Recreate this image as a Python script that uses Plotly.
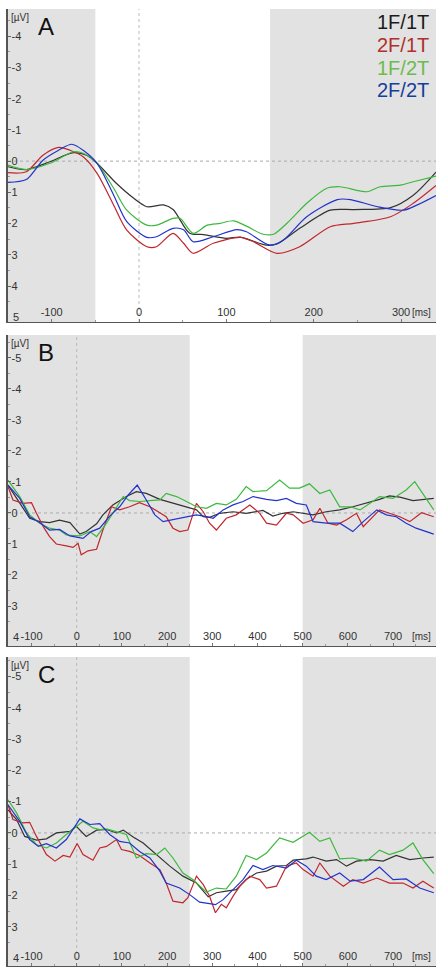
import plotly.graph_objects as go

# ---------------- data ----------------
series_names = ["1F/1T", "2F/1T", "1F/2T", "2F/2T"]
series_colors = ["#333333", "#c0272d", "#3cb93c", "#2233cc"]
legend_colors = ["#1a1a1a", "#b0302a", "#6cbb4c", "#153e9a"]

# Panel A (ms, µV; negative up)
a_t_black = [-150, -129, -102, -75, -60, -48, -26, -6, 9, 28, 39, 58, 74, 100, 116, 146, 158, 184, 219, 246, 288, 314, 340]
a_v_black = [0.18, 0.27, 0.02, -0.27, -0.19, 0.07, 0.71, 1.19, 1.46, 1.40, 1.55, 2.31, 2.35, 2.47, 2.43, 2.69, 2.65, 2.15, 1.57, 1.55, 1.49, 1.09, 0.35]
a_t_red = [-150, -129, -110, -92, -79, -64, -48, -29, -14, 9, 20, 39, 51, 62, 85, 116, 131, 158, 184, 219, 246, 288, 314, 340]
a_v_red = [0.37, 0.34, -0.19, -0.44, -0.35, -0.14, 0.39, 1.41, 2.21, 2.74, 2.74, 2.31, 2.63, 2.95, 2.63, 2.44, 2.58, 2.95, 2.74, 2.10, 1.99, 1.78, 1.35, 0.78]
a_t_green = [-150, -129, -102, -75, -64, -48, -29, -14, 9, 20, 39, 47, 62, 78, 93, 108, 123, 142, 154, 173, 192, 215, 230, 261, 276, 299, 314, 340]
a_v_green = [0.13, 0.27, 0.07, -0.30, -0.25, 0.07, 0.87, 1.57, 2.05, 2.05, 1.83, 1.83, 2.31, 2.05, 1.99, 1.91, 2.08, 2.34, 2.34, 1.89, 1.35, 0.87, 0.82, 0.98, 0.82, 0.77, 0.66, 0.48]
a_t_blue = [-150, -129, -110, -92, -77, -64, -48, -29, -14, 9, 20, 39, 51, 62, 85, 112, 123, 150, 165, 192, 227, 242, 273, 303, 318, 340]
a_v_blue = [0.68, 0.59, -0.03, -0.35, -0.54, -0.35, 0.07, 1.09, 1.94, 2.44, 2.42, 2.15, 2.20, 2.58, 2.42, 2.19, 2.26, 2.69, 2.53, 1.78, 1.23, 1.23, 1.46, 1.57, 1.41, 1.10]

# Panel B
b_t_black = [-152, -126, -104, -82, -60, -38, -15, 7, 21, 44, 58, 80, 110, 132, 154, 184, 213, 243, 265, 280, 294, 316, 346, 375, 412, 434, 456, 479, 501, 523, 552, 582, 611, 641, 670, 692, 715, 744, 766, 790]
b_v_black = [-0.90, -0.31, 0.17, 0.28, 0.31, 0.23, 0.31, 0.68, 0.60, 0.35, 0.06, -0.26, -0.53, -0.69, -0.63, -0.44, -0.31, -0.18, -0.10, 0.12, 0.14, 0.01, -0.04, 0.01, -0.08, 0.10, 0.01, -0.04, 0.01, 0.06, -0.04, -0.10, -0.20, -0.31, -0.44, -0.55, -0.51, -0.40, -0.44, -0.47]
b_t_red = [-152, -141, -119, -100, -89, -74, -60, -45, -23, -8, 3, 10, 25, 44, 58, 77, 95, 117, 139, 162, 184, 198, 213, 228, 246, 265, 280, 294, 309, 331, 353, 383, 405, 420, 442, 464, 479, 501, 523, 538, 556, 575, 597, 619, 634, 649, 670, 692, 715, 737, 763, 790]
b_v_red = [-0.85, -0.42, -0.31, -0.33, 0.01, 0.44, 0.76, 1.00, 1.06, 1.11, 0.98, 1.35, 1.22, 1.17, 0.55, -0.20, -0.10, -0.20, -0.33, -0.20, -0.01, 0.12, 0.49, 0.60, 0.55, -0.31, -0.04, 0.33, 0.55, 0.17, 0.06, -0.26, 0.01, 0.33, 0.39, 0.01, 0.06, 0.33, 0.22, -0.15, 0.33, 0.39, 0.22, 0.01, 0.44, 0.22, -0.10, 0.01, 0.12, 0.28, -0.01, 0.12]
b_t_green = [-152, -126, -104, -82, -60, -38, -23, 7, 29, 44, 66, 84, 103, 117, 139, 162, 184, 198, 221, 243, 265, 287, 309, 331, 353, 375, 390, 420, 449, 471, 493, 515, 538, 560, 582, 605, 627, 649, 670, 700, 729, 748, 766, 790]
b_v_green = [-1.06, -0.53, 0.06, 0.33, 0.49, 0.55, 0.71, 0.74, 0.60, 0.76, 0.33, -0.10, -0.53, -0.40, -0.37, -0.40, -0.42, -0.63, -0.53, -0.37, -0.20, -0.15, -0.31, -0.26, -0.44, -0.85, -0.69, -0.72, -1.06, -0.80, -0.80, -0.94, -0.63, -0.74, -0.20, -0.20, -0.10, -0.31, -0.53, -0.47, -0.74, -1.01, -0.63, -0.10]
b_t_blue = [-152, -126, -104, -82, -60, -38, -15, 14, 32, 51, 73, 95, 114, 134, 154, 173, 191, 221, 243, 265, 287, 302, 324, 346, 368, 390, 420, 442, 464, 486, 508, 523, 552, 582, 611, 634, 664, 685, 707, 729, 751, 773, 790]
b_v_blue = [-0.90, -0.47, 0.12, 0.31, 0.55, 0.53, 0.74, 0.82, 0.60, 0.49, 0.10, -0.20, -0.58, -0.90, -0.42, 0.06, 0.28, 0.20, 0.12, 0.06, 0.12, 0.17, -0.10, -0.26, -0.37, -0.53, -0.44, -0.40, -0.47, -0.31, -0.26, 0.28, 0.33, 0.33, 0.60, 0.28, -0.10, 0.06, 0.12, 0.33, 0.49, 0.60, 0.68]

# Panel C
c_t_black = [-152, -133, -115, -89, -67, -45, -15, -1, 21, 44, 66, 88, 103, 125, 147, 177, 206, 235, 265, 291, 309, 331, 353, 375, 398, 420, 442, 464, 479, 508, 523, 552, 575, 597, 619, 649, 678, 707, 737, 766, 790]
c_v_black = [-0.74, -0.43, 0.11, 0.23, 0.19, 0.00, -0.05, -0.21, 0.11, -0.09, -0.11, 0.00, -0.09, 0.13, 0.32, 0.69, 1.06, 1.38, 1.60, 2.04, 1.91, 1.86, 1.81, 1.49, 1.28, 1.22, 1.06, 1.04, 0.87, 0.83, 0.77, 0.90, 0.85, 1.06, 0.90, 0.85, 0.90, 0.72, 0.85, 0.80, 0.77]
c_t_red = [-152, -141, -119, -104, -89, -67, -48, -30, -15, 1, 14, 36, 51, 66, 88, 99, 117, 139, 162, 184, 198, 213, 235, 246, 265, 280, 294, 307, 320, 331, 346, 361, 383, 405, 420, 442, 464, 486, 501, 523, 538, 560, 590, 611, 634, 664, 692, 722, 744, 766, 790]
c_v_red = [-0.90, -0.43, -0.32, -0.34, 0.11, 0.69, 0.90, 0.72, 0.77, 0.34, 0.69, 0.87, 0.48, 0.43, 0.21, 0.53, 0.59, 0.72, 0.96, 1.17, 1.60, 2.18, 2.23, 2.07, 1.38, 1.65, 2.02, 2.55, 2.28, 2.39, 2.02, 1.70, 1.38, 1.49, 1.76, 1.70, 1.06, 0.96, 1.17, 1.38, 0.96, 1.38, 1.70, 1.49, 1.60, 1.44, 1.60, 1.60, 1.76, 1.54, 1.76]
c_t_green = [-152, -133, -111, -89, -67, -45, -23, -1, 14, 36, 51, 66, 88, 110, 132, 154, 177, 195, 213, 235, 257, 287, 309, 331, 353, 375, 398, 420, 449, 479, 515, 538, 560, 582, 611, 641, 670, 692, 722, 744, 766, 790]
c_v_green = [-1.06, -0.64, 0.00, 0.37, 0.48, 0.32, 0.05, -0.21, -0.37, -0.16, -0.11, -0.13, -0.05, 0.05, 0.80, 0.66, 0.69, 0.48, 0.80, 1.28, 1.49, 1.89, 1.76, 1.79, 1.38, 0.72, 0.85, 0.64, 0.16, 0.30, -0.02, 0.27, 0.16, 0.83, 0.80, 0.90, 0.55, 0.69, 0.55, 0.32, 0.85, 1.30]
c_t_blue = [-152, -126, -104, -85, -67, -45, -23, 7, 29, 51, 73, 95, 117, 139, 162, 184, 198, 228, 250, 272, 294, 307, 324, 346, 368, 390, 412, 434, 464, 486, 508, 530, 552, 582, 605, 634, 670, 700, 729, 759, 790]
c_v_blue = [-0.90, -0.37, 0.21, 0.43, 0.34, 0.48, 0.21, -0.45, -0.27, -0.30, 0.05, 0.27, 0.32, 0.59, 0.80, 1.22, 1.60, 1.76, 1.97, 2.21, 2.26, 2.29, 2.13, 1.81, 1.49, 1.04, 1.17, 1.04, 1.12, 0.87, 1.06, 1.38, 1.49, 1.28, 1.54, 1.49, 1.09, 1.49, 1.47, 1.76, 1.91]

panels = [
    dict(letter="A", t=[a_t_black, a_t_red, a_t_green, a_t_blue], v=[a_v_black, a_v_red, a_v_green, a_v_blue],
         xrange=[-150, 340], yrange=[5.15, -4.87], yticks=[-4, -3, -2, -1, 0, 1, 2, 3, 4, 5],
         xticks=[-100, 0, 100, 200, 300], gray=[[-150, -50], [150, 340]], top=9, bottom=322, shape="spline"),
    dict(letter="B", t=[b_t_black, b_t_red, b_t_green, b_t_blue], v=[b_v_black, b_v_red, b_v_green, b_v_blue],
         xrange=[-152, 795], yrange=[4.29, -5.74], yticks=[-5, -4, -3, -2, -1, 0, 1, 2, 3, 4],
         xticks=[-100, 0, 100, 200, 300, 400, 500, 600, 700], gray=[[-152, 250], [500, 795]], top=335, bottom=646, shape="linear"),
    dict(letter="C", t=[c_t_black, c_t_red, c_t_green, c_t_blue], v=[c_v_black, c_v_red, c_v_green, c_v_blue],
         xrange=[-152, 795], yrange=[4.25, -5.62], yticks=[-5, -4, -3, -2, -1, 0, 1, 2, 3, 4],
         xticks=[-100, 0, 100, 200, 300, 400, 500, 600, 700], gray=[[-152, 250], [500, 795]], top=657, bottom=966, shape="linear"),
]

W, H = 436, 969
LEFT = 8
fig = go.Figure()
shapes = []
annotations = []
FONT = "Liberation Sans, Arial, sans-serif"
tick_font = dict(family=FONT, size=11, color="#333333")

for i, p in enumerate(panels):
    n = "" if i == 0 else str(i + 1)
    xa, ya = "x" + n, "y" + n
    for k in range(4):
        fig.add_trace(go.Scatter(
            x=p["t"][k], y=p["v"][k], mode="lines", name=series_names[k],
            line=dict(color=series_colors[k], width=1.2, shape=p["shape"], smoothing=0.8),
            xaxis=xa, yaxis=ya, showlegend=False, hoverinfo="skip"))
    dom_y = [1 - p["bottom"] / H, 1 - p["top"] / H]
    yv = p["yticks"][:-1]
    fig.update_layout(**{
        ("xaxis" + n): dict(domain=[LEFT / W, 1], range=p["xrange"], anchor=ya, showgrid=False, zeroline=False,
                            showline=True, linecolor="#555555", linewidth=1,
                            tickvals=p["xticks"], ticktext=[str(v) for v in p["xticks"]],
                            ticks="inside", ticklen=3, tickcolor="#777777",
                            minor=dict(dtick=50, ticks="inside", ticklen=2, tickcolor="#999999"),
                            ticklabelposition="inside", tickfont=tick_font, fixedrange=True),
        ("yaxis" + n): dict(domain=dom_y, range=p["yrange"], anchor=xa, showgrid=False, zeroline=False,
                            showline=True, linecolor="#555555", linewidth=1.5,
                            tickvals=yv, ticktext=[str(v) for v in yv],
                            ticks="inside", ticklen=3, tickcolor="#666666",
                            minor=dict(dtick=0.5, ticks="inside", ticklen=2, tickcolor="#999999"),
                            ticklabelposition="inside", tickfont=tick_font, fixedrange=True),
    })
    last = p["yticks"][-1]
    annotations.append(dict(text=str(last), xref="paper", yref=ya, x=(LEFT + 3) / W, y=last,
                            xanchor="left", yanchor="middle", showarrow=False, font=tick_font))
    for g in p["gray"]:
        shapes.append(dict(type="rect", xref=xa, yref=ya + " domain", x0=g[0], x1=g[1], y0=0, y1=1,
                           fillcolor="#e2e2e2", line=dict(width=0), layer="below"))
    shapes.append(dict(type="line", xref=xa + " domain", yref=ya, x0=0, x1=1, y0=0, y1=0,
                       line=dict(color="#aaaaaa", width=1, dash="dot"), layer="below"))
    shapes.append(dict(type="line", xref=xa, yref=ya + " domain", x0=0, x1=0, y0=0, y1=1,
                       line=dict(color="#bbbbbb", width=1, dash="dot"), layer="below"))
    annotations.append(dict(text=p["letter"], xref="paper", yref="paper", x=36 / W, y=1 - (p["top"] + 17) / H,
                            xanchor="left", yanchor="middle", showarrow=False,
                            font=dict(family=FONT, size=24, color="#111111")))
    annotations.append(dict(text="[µV]", xref="paper", yref="paper", x=(LEFT + 1) / W, y=1 - (p["top"] + 1) / H,
                            xanchor="left", yanchor="top", showarrow=False,
                            font=dict(family=FONT, size=10, color="#333333")))
    annotations.append(dict(text="[ms]", xref="paper", yref="paper", x=433 / W, y=1 - (p["bottom"] - 2) / H,
                            xanchor="right", yanchor="bottom", showarrow=False,
                            font=dict(family=FONT, size=10, color="#333333")))

legend_y = [22, 45, 68, 90]
for k in range(4):
    annotations.append(dict(text=series_names[k], xref="paper", yref="paper", x=431 / W, y=1 - legend_y[k] / H,
                            xanchor="right", yanchor="middle", showarrow=False,
                            font=dict(family=FONT, size=20, color=legend_colors[k])))

fig.update_layout(width=W, height=H, margin=dict(l=0, r=0, t=0, b=0),
                  paper_bgcolor="white", plot_bgcolor="white",
                  shapes=shapes, annotations=annotations, showlegend=False)
fig.write_html("out.html", include_plotlyjs=True, config={"displayModeBar": False},
               post_script="document.body.style.margin='0';document.body.style.padding='0';"
                           "document.body.style.overflow='hidden';")
